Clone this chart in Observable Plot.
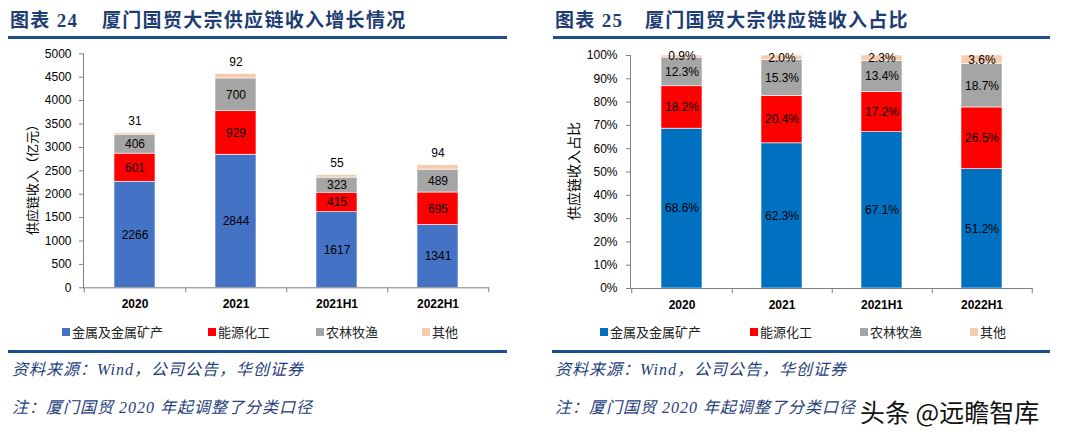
<!DOCTYPE html>
<html><head><meta charset="utf-8">
<script src="https://cdn.jsdelivr.net/npm/d3@7"></script>
<script src="https://cdn.jsdelivr.net/npm/@observablehq/plot@0.6"></script>
<style>
html,body{margin:0;padding:0;}
body{width:1080px;height:437px;background:#fff;position:relative;overflow:hidden;font-family:"Liberation Sans","Noto Sans CJK SC",sans-serif;}
.abs{position:absolute;white-space:nowrap;}
.title{font-family:"Liberation Serif","Noto Sans CJK SC",serif;font-weight:700;font-size:19px;line-height:19px;color:#1f3d73;letter-spacing:1.3px;}
.rule{height:3px;background:#1f4e8c;}
.src{font-family:"Liberation Serif","Noto Sans CJK SC",serif;font-style:italic;font-size:16px;line-height:16px;color:#25407a;letter-spacing:1px;}
.ytitle{font-family:"Noto Sans CJK SC",sans-serif;color:#000;transform:rotate(-90deg);transform-origin:center center;}
.leg{font-family:"Noto Sans CJK SC",sans-serif;font-size:13px;line-height:13px;color:#222;}
.sw{position:absolute;width:8px;height:8px;}
.wm{font-family:"Noto Sans CJK SC",sans-serif;font-size:25px;line-height:25px;color:#111;}
</style></head>
<body>
<script>
// ---------- data ----------
const categories = ["2020", "2021", "2021H1", "2022H1"];
const series = ["金属及金属矿产", "能源化工", "农林牧渔", "其他"];
// 收入（亿元）
const metal = [2266, 2844, 1617, 1341];
const energy = [601, 929, 415, 695];
const agri = [406, 700, 323, 489];
const other = [31, 92, 55, 94];
// 占比（%）
const metalPct = [68.6, 62.3, 67.1, 51.2];
const energyPct = [18.2, 20.4, 17.2, 26.5];
const agriPct = [12.3, 15.3, 13.4, 18.7];
const otherPct = [0.9, 2.0, 2.3, 3.6];
// ticks
const yTicksL = [0, 500, 1000, 1500, 2000, 2500, 3000, 3500, 4000, 4500, 5000];
const yTicksR = [0, 10, 20, 30, 40, 50, 60, 70, 80, 90, 100];
const colorsL = ["#4472C4", "#FF0000", "#A5A5A5", "#F8CBAD"];
const colorsR = ["#0070C0", "#FF0000", "#A5A5A5", "#F8CBAD"];

function rows(arrs) {
  const out = [];
  arrs.forEach((arr, si) => arr.forEach((v, ci) => out.push({cat: categories[ci], series: series[si], value: v})));
  return out;
}

const axisColor = "#808080";
const numFont = "'Liberation Sans','Noto Sans CJK SC',sans-serif";

function el(html, style, cls) {
  const d = document.createElement("div");
  d.className = "abs " + (cls || "");
  d.innerHTML = html;
  Object.assign(d.style, style);
  document.body.appendChild(d);
  return d;
}

// ---------- left chart ----------
{
  const W = 540, H = 290, ml = 83, mr = 51, mt = 13.3, mb = 42.7;
  const step = (W - ml - mr) / categories.length;
  const data = rows([metal, energy, agri, other]);
  const inside = data.filter(d => d.series !== "其他");
  const totals = categories.map((c, i) => ({cat: c, total: metal[i] + energy[i] + agri[i] + other[i], label: other[i]}));
  const chart = Plot.plot({
    width: W, height: H, marginLeft: ml, marginRight: mr, marginTop: mt, marginBottom: mb,
    style: {fontFamily: numFont, fontSize: "12px", color: "#000", background: "transparent", overflow: "visible"},
    x: {domain: categories, paddingInner: 0.59, paddingOuter: 0.295, label: null},
    y: {domain: [0, 5000], label: null},
    color: {domain: series, range: colorsL},
    marks: [
      Plot.barY(data, {x: "cat", y: "value", fill: "series", stroke: "white", strokeWidth: 0.6}),
      Plot.text(inside, Plot.stackY({x: "cat", y: "value", text: d => String(d.value), fill: "#000"})),
      Plot.text(totals, {x: "cat", y: "total", text: d => String(d.label), dy: -12, fill: "#000"}),
      Plot.frame({anchor: "left", stroke: axisColor}),
      Plot.ruleY([0], {stroke: axisColor}),
      Plot.axisY({ticks: yTicksL, tickSize: 4, tickPadding: 8, label: null, stroke: axisColor, fill: "#000", tickFormat: d => String(d)}),
      Plot.axisX({tickSize: 0, tickPadding: 12, label: null, fontWeight: "bold", fill: "#000"}),
      Plot.axisX({tickSize: 5, tickFormat: () => "", dx: step / 2, label: null, stroke: axisColor}),
      Plot.axisX({ticks: [categories[0]], tickSize: 5, tickFormat: () => "", dx: -step / 2, label: null, stroke: axisColor})
    ]
  });
  const wrap = el("", {left: "0px", top: "40px"});
  wrap.appendChild(chart);
}

// ---------- right chart ----------
{
  const W = 540, H = 290, ml = 90, mr = 48, mt = 15, mb = 42;
  const step = (W - ml - mr) / categories.length;
  const data = rows([metalPct, energyPct, agriPct, otherPct]);
  const chart = Plot.plot({
    width: W, height: H, marginLeft: ml, marginRight: mr, marginTop: mt, marginBottom: mb,
    style: {fontFamily: numFont, fontSize: "12px", color: "#000", background: "transparent", overflow: "visible"},
    x: {domain: categories, paddingInner: 0.59, paddingOuter: 0.295, label: null},
    y: {domain: [0, 100], label: null},
    color: {domain: series, range: colorsR},
    marks: [
      Plot.barY(data, {x: "cat", y: "value", fill: "series", stroke: "white", strokeWidth: 0.6}),
      Plot.text(data, Plot.stackY({x: "cat", y: "value", text: d => d.value.toFixed(1) + "%", fill: "#000"})),
      Plot.frame({anchor: "left", stroke: axisColor}),
      Plot.ruleY([0], {stroke: axisColor}),
      Plot.axisY({ticks: yTicksR, tickSize: 4, tickPadding: 9, label: null, stroke: axisColor, fill: "#000", tickFormat: d => d + "%"}),
      Plot.axisX({tickSize: 0, tickPadding: 12, label: null, fontWeight: "bold", fill: "#000"}),
      Plot.axisX({tickSize: 5, tickFormat: () => "", dx: step / 2, label: null, stroke: axisColor}),
      Plot.axisX({ticks: [categories[0]], tickSize: 5, tickFormat: () => "", dx: -step / 2, label: null, stroke: axisColor})
    ]
  });
  const wrap = el("", {left: "540px", top: "40px"});
  wrap.appendChild(chart);
}

// ---------- titles ----------
el("图表 24", {left: "10px", top: "11px"}, "title");
el("厦门国贸大宗供应链收入增长情况", {left: "102px", top: "11px"}, "title");
el("", {left: "8px", top: "36px", width: "499px"}, "rule");
el("图表 25", {left: "555px", top: "11px"}, "title");
el("厦门国贸大宗供应链收入占比", {left: "645px", top: "11px"}, "title");
el("", {left: "553px", top: "36px", width: "497px"}, "rule");

// y titles
{
  const t1 = el("供应链收入（亿元）", {fontSize: "13px", lineHeight: "13px"}, "ytitle");
  const w1 = t1.offsetWidth, h1 = t1.offsetHeight;
  t1.style.left = (31 - w1 / 2) + "px"; t1.style.top = (176 - h1 / 2) + "px";
  const t2 = el("供应链收入占比", {fontSize: "14px", lineHeight: "14px"}, "ytitle");
  const w2 = t2.offsetWidth, h2 = t2.offsetHeight;
  t2.style.left = (573 - w2 / 2) + "px"; t2.style.top = (171 - h2 / 2) + "px";
}

// legends
function legend(xs, colors, y) {
  series.forEach((s, i) => {
    const sw = document.createElement("div");
    sw.className = "sw";
    Object.assign(sw.style, {left: xs[i] + "px", top: (y - 4) + "px", background: colors[i]});
    document.body.appendChild(sw);
    el(s, {left: (xs[i] + 10) + "px", top: (y - 7) + "px"}, "leg");
  });
}
legend([62, 208, 316, 422], colorsL, 332);
legend([600, 750, 860, 970], colorsR, 332);

// bottom rules and notes
el("", {left: "8px", top: "350px", width: "499px"}, "rule");
el("", {left: "552px", top: "350px", width: "498px"}, "rule");
el("资料来源：Wind，公司公告，华创证券", {left: "12px", top: "362px"}, "src");
el("注：厦门国贸 2020 年起调整了分类口径", {left: "12px", top: "400px"}, "src");
el("资料来源：Wind，公司公告，华创证券", {left: "555px", top: "362px"}, "src");
el("注：厦门国贸 2020 年起调整了分类口径", {left: "555px", top: "400px"}, "src");
el("头条 @远瞻智库", {left: "860px", top: "399px"}, "wm");
</script>
</body></html>
